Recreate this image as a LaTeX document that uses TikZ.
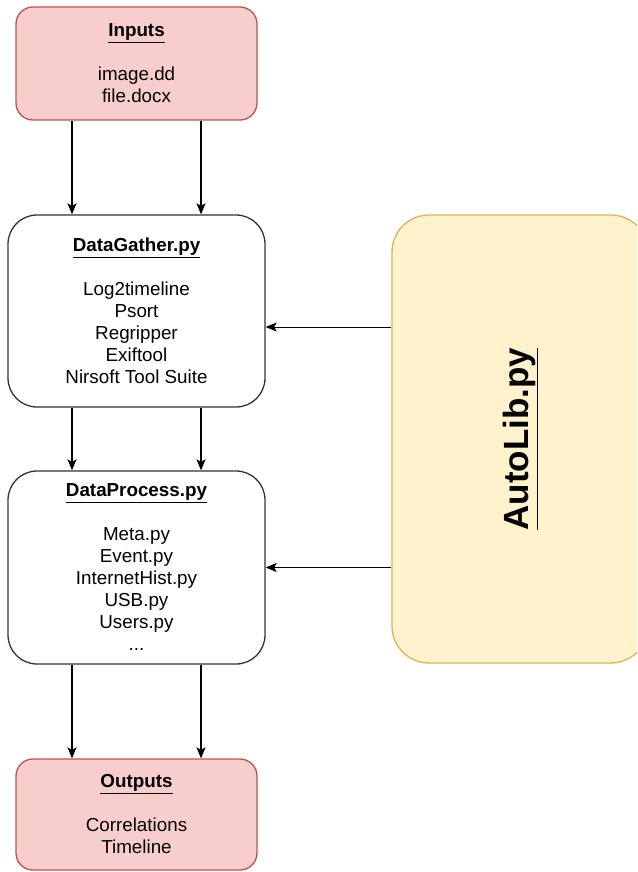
\documentclass[tikz,border=0pt]{standalone}
\usepackage{fontspec}
\setmainfont{Liberation Sans}
\usetikzlibrary{arrows.meta}
\definecolor{redfill}{HTML}{F8CECC}
\definecolor{redline}{HTML}{B85450}
\definecolor{yelfill}{HTML}{FFF2CC}
\definecolor{yelline}{HTML}{D6B656}
\tikzset{
  block/.style={draw=black!80, line width=1.3pt, fill=white, align=center,
    inner sep=0pt, font=\fontsize{18.8}{22}\selectfont},
  iobox/.style={block, draw=redline, fill=redfill},
  arr/.style={line width=1.3pt, -{Stealth[length=11pt,width=9pt,inset=2.5pt]}},
}
\newcommand{\ttl}[1]{\underline{\textbf{#1}}}
\begin{document}
\begin{tikzpicture}[x=1pt,y=-1pt]
                \clip (0,0) rectangle (637,872);
                \node (inputs) at (136.5,63.5) [iobox, rounded corners=17pt, minimum width=241pt, minimum height=113pt]
                  {\ttl{Inputs}\\[22pt]image.dd\\file.docx};
                \node (gather) at (136.5,311) [block, rounded corners=29pt, minimum width=257pt, minimum height=192pt]
                  {\ttl{DataGather.py}\\[22pt]Log2timeline\\Psort\\Regripper\\Exiftool\\Nirsoft Tool Suite};
                \node (process) at (136.5,567.5) [block, rounded corners=29pt, minimum width=257pt, minimum height=193pt]
                  {\ttl{DataProcess.py}\\[22pt]Meta.py\\Event.py\\InternetHist.py\\USB.py\\Users.py\\...};
                \node (outputs) at (136.5,814.5) [iobox, rounded corners=17pt, minimum width=241pt, minimum height=111pt]
                  {\ttl{Outputs}\\[22pt]Correlations\\Timeline};
                \node (autolib) at (520,439) [draw=yelline, fill=yelfill, line width=1.3pt, rounded corners=37pt,
                  minimum width=256pt, minimum height=448pt] {};
                \node (autolibtext) at (autolib.center) [rotate=90, font=\fontsize{35}{40}\selectfont] {\ttl{AutoLib.py}};
                \foreach \dx in {-64.5,64.5} {
                  \draw[arr] ([xshift=\dx pt]inputs.south) -- ([xshift=\dx pt]gather.north);
                  \draw[arr] ([xshift=\dx pt]gather.south) -- ([xshift=\dx pt]process.north);
                  \draw[arr] ([xshift=\dx pt]process.south) -- ([xshift=\dx pt]outputs.north);
                }
                \draw[arr, line width=1pt] ([yshift=-16pt]gather.east -| autolib.west) -- ([yshift=-16pt]gather.east);
                \draw[arr, line width=1pt] (process.east -| autolib.west) -- (process.east);
            \end{tikzpicture}
\end{document}
